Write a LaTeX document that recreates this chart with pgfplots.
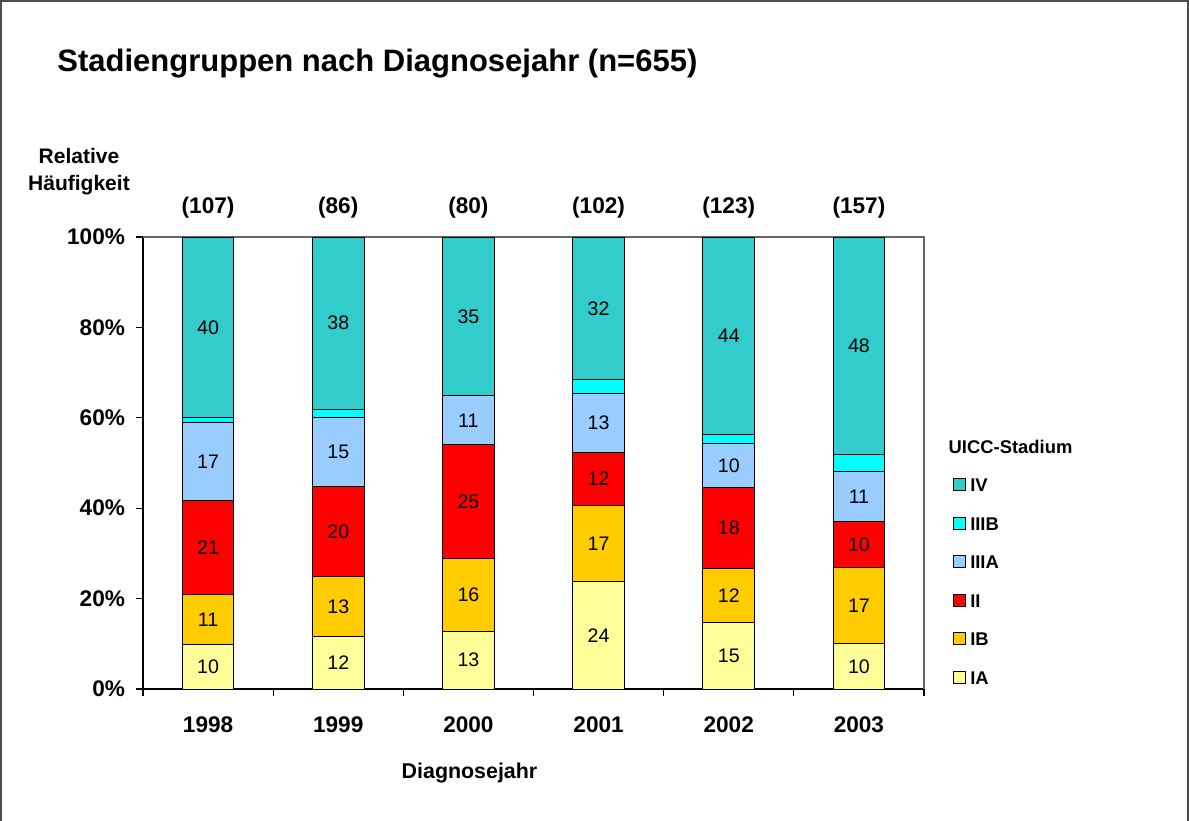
\documentclass[border=0pt]{standalone}
\usepackage{pgfplots}
\pgfplotsset{compat=1.18}
\usepackage{pgfplotstable}
\usepackage{fontspec}
\setmainfont{Liberation Sans}
\definecolor{cIA}{HTML}{FFFF99}
\definecolor{cIB}{HTML}{FFCC00}
\definecolor{cII}{HTML}{FF0000}
\definecolor{cIIIA}{HTML}{99CCFF}
\definecolor{cIIIB}{HTML}{00FFFF}
\definecolor{cIV}{HTML}{33CCCC}

\pgfplotstableread{
x IA IB II IIIA IIIB IV
0 9.9 11.0 20.9 17.1 1.1 40.0
1 11.7 13.2 20.0 15.1 1.9 38.1
2 12.8 16.0 25.2 10.9 0.0 35.1
3 23.7 16.8 11.9 12.9 3.1 31.6
4 14.7 12.0 17.8 9.8 2.1 43.6
5 10.0 16.9 10.1 11.1 3.8 48.1
}\stagedata

\pgfplotsset{
  lab/.style={nodes near coords={\pgfmathprintnumber[fixed,precision=0,assume math mode=true]{\pgfplotspointmeta}},
    point meta=\thisrow{#1},
    every node near coord/.append style={anchor=center, text=black,
      font=\fontsize{9.8}{11}\selectfont}},
}
\tikzset{cnt/.style={font=\bfseries\fontsize{11.3}{13}\selectfont, yshift=14.5pt}}

\begin{document}
\begin{tikzpicture}[x=1pt,y=1pt]
\path[use as bounding box] (-71.5,-65.5) rectangle (523,344.5);
\draw[line width=1pt, black!70] (-71,-66) -- (-71,344) -- (522.5,344) -- (522.5,-66);
\begin{axis}[
  at={(0,0)}, anchor=south west,
  scale only axis, width=390.5pt, height=226pt,
  clip=false,
  ymin=0, ymax=100, xmin=-0.5, xmax=5.5,
  ybar stacked, bar width=25.8pt,
  tick pos=left, tick align=outside,
  axis line style={line width=0.7pt, black},
  xtick={0,...,5}, xticklabels={1998,1999,2000,2001,2002,2003},
  major x tick style={draw=none},
  minor xtick={-0.5,0.5,...,5.5},
  minor tick length=3.5pt, major tick length=3.5pt,
  tick style={black, line width=0.6pt},
  ytick={0,20,...,100}, yticklabels={0\%,20\%,40\%,60\%,80\%,100\%},
  ticklabel style={font=\bfseries\fontsize{11.3}{13}\selectfont},
  xticklabel style={yshift=-7pt},
  yticklabel style={xshift=-2pt},
  reverse legend,
  legend cell align=left,
  legend image code/.code={\draw[#1, line width=0.6pt] (0pt,-3pt) rectangle (6pt,3pt);},
  legend style={at={(1.0367,0.468)}, anchor=north west, draw=none, fill=none,
    inner sep=0pt, row sep=12.25pt, column sep=2pt,
    font=\bfseries\fontsize{9.2}{11}\selectfont,
    nodes={inner sep=0pt, text height=7pt, text depth=0pt}},
]
\addplot[fill=cIA, draw=black, line width=0.5pt, lab=IA] table[x=x,y=IA]{\stagedata};
\addplot[fill=cIB, draw=black, line width=0.5pt, lab=IB] table[x=x,y=IB]{\stagedata};
\addplot[fill=cII, draw=black, line width=0.5pt, lab=II] table[x=x,y=II]{\stagedata};
\addplot[fill=cIIIA, draw=black, line width=0.5pt, lab=IIIA] table[x=x,y=IIIA]{\stagedata};
\addplot[fill=cIIIB, draw=black, line width=0.5pt] table[x=x,y=IIIB]{\stagedata};
\addplot[fill=cIV, draw=black, line width=0.5pt, lab=IV] table[x=x,y=IV]{\stagedata};
\legend{IA,IB,II,IIIA,IIIB,IV}
\draw[black!60, line width=0.7pt] (rel axis cs:0,1) -- (rel axis cs:1,1) -- (rel axis cs:1,0);
\node[cnt] at (axis cs:0,100) {(107)};
\node[cnt] at (axis cs:1,100) {(86)};
\node[cnt] at (axis cs:2,100) {(80)};
\node[cnt] at (axis cs:3,100) {(102)};
\node[cnt] at (axis cs:4,100) {(123)};
\node[cnt] at (axis cs:5,100) {(157)};
\end{axis}
\node[anchor=base west, inner sep=0, font=\bfseries\fontsize{15.5}{18}\selectfont] at (-43,308.5) {Stadiengruppen nach Diagnosejahr (n=655)};
\node[align=center, inner sep=0, font=\bfseries\fontsize{10.5}{13.5}\selectfont] at (-32,258.75) {Relative\\Häufigkeit};
\node[inner sep=0, font=\bfseries\fontsize{10.7}{13}\selectfont] at (163.25,-42) {Diagnosejahr};
\node[anchor=west, inner sep=0, font=\bfseries\fontsize{9.2}{11}\selectfont] at (402.65,121.15) {UICC-Stadium};
\end{tikzpicture}
\end{document}
